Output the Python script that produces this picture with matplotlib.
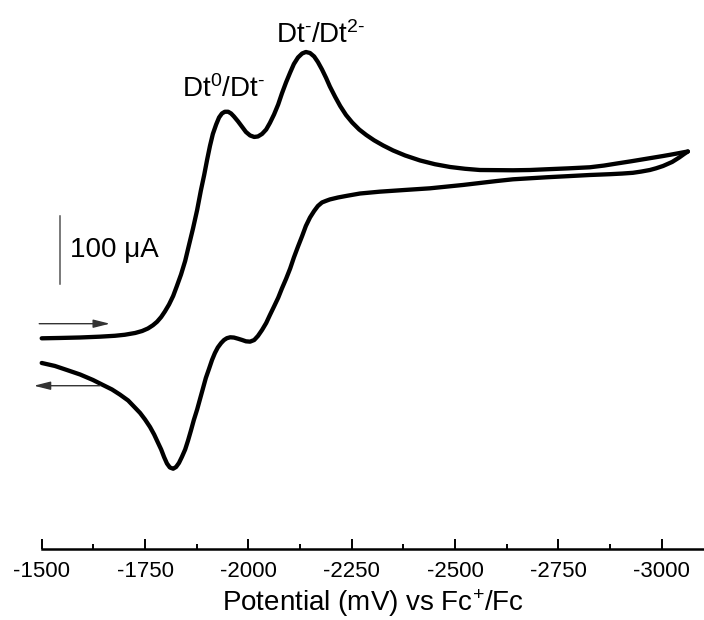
import matplotlib
matplotlib.use("Agg")
import matplotlib.pyplot as plt
from matplotlib.ticker import MultipleLocator

plt.rcParams['font.family'] = ['Liberation Sans', 'DejaVu Sans']
plt.rcParams['mathtext.fontset'] = 'custom'
plt.rcParams['mathtext.rm'] = 'Liberation Sans'
plt.rcParams['mathtext.it'] = 'Liberation Sans:italic'
plt.rcParams['mathtext.bf'] = 'Liberation Sans:bold'
plt.rcParams['axes.unicode_minus'] = False

# Cathodic sweep (potential in mV vs Fc+/Fc, current in uA)
E_fwd = [-1500, -1544, -1593, -1641, -1677, -1701, -1726, -1743, -1757, -1769,
         -1779, -1789, -1798, -1808, -1818, -1827, -1837, -1847, -1856, -1866,
         -1876, -1885, -1893, -1900, -1907, -1914, -1922, -1929, -1936, -1943,
         -1951, -1958, -1965, -1975, -1985, -1994, -2004, -2014, -2023, -2033,
         -2043, -2052, -2062, -2072, -2081, -2091, -2101, -2110, -2120, -2130,
         -2139, -2149, -2159, -2168, -2178, -2188, -2197, -2210, -2222, -2236,
         -2251, -2268, -2285, -2304, -2326, -2350, -2379, -2415, -2451, -2488,
         -2524, -2560, -2640, -2681, -2722, -2773, -2826, -2860, -2892, -2926,
         -2959, -2981, -3003, -3020, -3037, -3051, -3063]
I_fwd = [17.1, 17.6, 18.3, 19.5, 20.8, 22.3, 24.9, 27.8, 31.5, 36.2,
         41.3, 48.3, 56.4, 66.6, 79.1, 93.7, 110.5, 130.3, 153.0, 177.9,
         205.0, 233.5, 256.2, 278.2, 298.7, 316.3, 330.2, 340.4, 346.3, 348.8,
         348.8, 346.3, 341.9, 334.6, 326.5, 319.2, 314.1, 311.9, 312.6, 316.3,
         322.8, 332.4, 344.8, 359.4, 375.5, 391.7, 406.3, 418.7, 428.3, 434.1,
         436.3, 434.8, 429.7, 421.7, 410.7, 398.2, 385.8, 370.4, 357.2, 344.1,
         333.1, 322.8, 314.8, 307.0, 299.4, 292.1, 284.8, 277.5, 272.0, 267.9,
         265.3, 263.5, 263.1, 263.5, 264.6, 265.9, 267.5, 270.0, 273.1, 276.3,
         279.6, 281.8, 284.0, 285.8, 287.7, 289.3, 290.6]

# Anodic (return) sweep
E_rev = [-3063, -3054, -3042, -3025, -3003, -2986, -2971, -2950, -2930, -2904,
         -2875, -2851, -2826, -2773, -2722, -2681, -2640, -2601, -2560, -2519,
         -2439, -2379, -2318, -2270, -2239, -2217, -2197, -2188, -2178, -2168,
         -2159, -2149, -2139, -2130, -2120, -2110, -2101, -2091, -2081, -2072,
         -2062, -2052, -2043, -2033, -2023, -2014, -2004, -1994, -1985, -1975,
         -1965, -1956, -1948, -1941, -1934, -1926, -1919, -1912, -1905, -1897,
         -1890, -1883, -1876, -1868, -1861, -1854, -1847, -1839, -1832, -1825,
         -1818, -1810, -1803, -1796, -1789, -1781, -1772, -1762, -1750, -1738,
         -1723, -1709, -1689, -1670, -1648, -1624, -1593, -1561, -1532, -1500]
I_rev = [290.6, 287.0, 281.8, 275.3, 269.4, 266.0, 263.5, 261.2, 259.4, 258.3,
         257.4, 256.8, 256.2, 254.5, 252.9, 251.4, 249.9, 247.4, 244.5, 241.6,
         236.7, 234.3, 231.8, 229.1, 225.8, 223.3, 220.4, 218.4, 216.0, 210.8,
         203.5, 194.0, 181.6, 166.9, 151.5, 135.4, 119.3, 104.0, 90.0, 76.4,
         63.7, 51.2, 39.5, 29.3, 20.5, 14.6, 12.2, 12.7, 14.6, 16.5,
         18.2, 18.6, 17.3, 14.6, 10.2, 3.7, -4.4, -14.6, -27.1, -41.0,
         -56.4, -71.7, -87.1, -102.5, -117.9, -132.5, -145.7, -156.7, -165.4, -171.3,
         -173.8, -172.0, -166.2, -156.7, -145.7, -135.4, -123.7, -112.7, -101.8, -92.2,
         -82.7, -73.9, -65.2, -57.8, -51.2, -43.9, -35.9, -29.3, -23.4, -19.0]

HY = '\u2010'  # short hyphen used in the charge superscripts
peak_labels = [r'Dt$^{0}$/Dt$^{' + HY + '}$',
               r'Dt$^{' + HY + '}$/Dt$^{2' + HY + '}$']
peak_label_pos = [(-1939, 370), (-2176, 449)]

scale_value = 100          # uA
scale_E = -1544
scale_bottom = 96
scale_text = '100 μA'

sweep_arrows = [((-1494, 38.5), (-1665, 38.5)),   # forward scan direction
                ((-1641, -52.3), (-1481, -52.3))] # return scan direction

x_major = 250
x_minor = 125

fig = plt.figure(figsize=(7.04, 6.2), dpi=100)
W, H = 704, 620
ax = fig.add_axes([41.7 / W, (H - 549.3) / H, (W - 41.7) / W, 549.3 / H])

for E, I in [(E_fwd, I_fwd), (E_rev, I_rev)]:
    ax.plot(E, I, color='black', lw=3.1, solid_joinstyle='round',
            solid_capstyle='round', clip_on=False)

ax.set_xlim(-1500, -3102)
ax.set_ylim(-291.8, 512.4)

for s in ['top', 'left', 'right']:
    ax.spines[s].set_visible(False)
ax.spines['bottom'].set_linewidth(1.8)
ax.yaxis.set_visible(False)

ax.xaxis.set_major_locator(MultipleLocator(x_major))
ax.xaxis.set_minor_locator(MultipleLocator(x_minor))
ax.tick_params(axis='x', which='major', direction='in', length=7.2, width=1.4,
               labelsize=16, pad=8.5)
ax.tick_params(axis='x', which='minor', direction='in', length=3.6, width=1.4)
ax.set_xlabel(r'Potential (mV) vs Fc$^{+}$/Fc', fontsize=20, labelpad=4)

# Current scale bar
ax.plot([scale_E, scale_E], [scale_bottom, scale_bottom + scale_value],
        color='#555555', lw=1.1)
ax.text(scale_E - 24, scale_bottom + scale_value / 2, scale_text,
        fontsize=20, ha='left', va='center')

# Sweep direction arrows
for start, end in sweep_arrows:
    ax.annotate('', xy=end, xytext=start,
                arrowprops=dict(arrowstyle='-|>,head_length=1.0,head_width=0.25',
                                mutation_scale=10, lw=1.0, color='#333333',
                                shrinkA=0, shrinkB=0), annotation_clip=False)

for lab, (x, y) in zip(peak_labels, peak_label_pos):
    ax.text(x, y, lab, fontsize=20, ha='center', va='baseline')

fig.savefig('out.png', dpi=100)
